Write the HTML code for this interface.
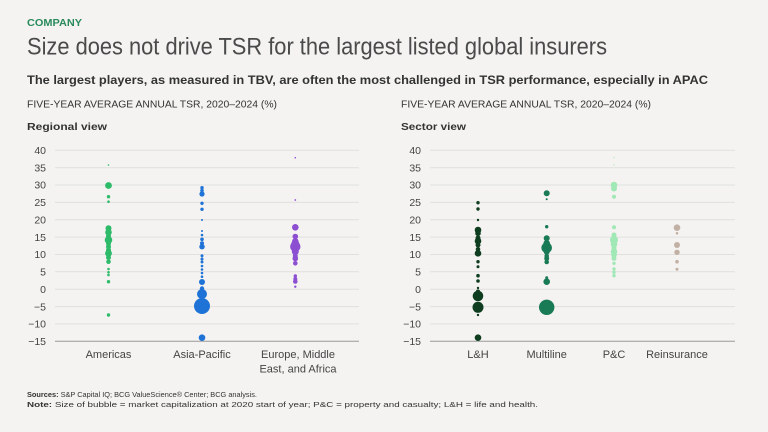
<!DOCTYPE html>
<html><head><meta charset="utf-8">
<style>
html,body{margin:0;padding:0;background:#f4f3f1;}
svg{display:block;}
text{font-family:"Liberation Sans",sans-serif;}
</style></head>
<body>
<svg width="768" height="432" viewBox="0 0 768 432" xmlns="http://www.w3.org/2000/svg">
<rect width="768" height="432" fill="#f4f3f1"/>
<text x="27" y="26" font-size="10" font-weight="bold" fill="#2a8a5c" textLength="55" lengthAdjust="spacingAndGlyphs">COMPANY</text>
<text x="27" y="54.5" font-size="24" fill="#4a4a4a" textLength="580" lengthAdjust="spacingAndGlyphs">Size does not drive TSR for the largest listed global insurers</text>
<text x="27" y="84" font-size="11.5" font-weight="bold" fill="#333" textLength="681" lengthAdjust="spacingAndGlyphs">The largest players, as measured in TBV, are often the most challenged in TSR performance, especially in APAC</text>
<text x="27" y="107.5" font-size="10" fill="#333" textLength="250" lengthAdjust="spacingAndGlyphs">FIVE-YEAR AVERAGE ANNUAL TSR, 2020–2024 (%)</text>
<text x="401" y="107.5" font-size="10" fill="#333" textLength="250" lengthAdjust="spacingAndGlyphs">FIVE-YEAR AVERAGE ANNUAL TSR, 2020–2024 (%)</text>
<text x="27" y="130" font-size="10.5" font-weight="bold" fill="#333" textLength="80" lengthAdjust="spacingAndGlyphs">Regional view</text>
<text x="401" y="130" font-size="10.5" font-weight="bold" fill="#333" textLength="65" lengthAdjust="spacingAndGlyphs">Sector view</text>

<g stroke="#e1e0de" stroke-width="1">
<line x1="55" x2="359" y1="150.3" y2="150.3"/><line x1="55" x2="359" y1="167.7" y2="167.7"/>
<line x1="55" x2="359" y1="185" y2="185"/><line x1="55" x2="359" y1="202.4" y2="202.4"/>
<line x1="55" x2="359" y1="219.7" y2="219.7"/><line x1="55" x2="359" y1="237.1" y2="237.1"/>
<line x1="55" x2="359" y1="254.5" y2="254.5"/><line x1="55" x2="359" y1="271.8" y2="271.8"/>
<line x1="55" x2="359" y1="289.2" y2="289.2"/><line x1="55" x2="359" y1="306.6" y2="306.6"/>
<line x1="55" x2="359" y1="323.9" y2="323.9"/>
<line x1="430" x2="735" y1="150.3" y2="150.3"/><line x1="430" x2="735" y1="167.7" y2="167.7"/>
<line x1="430" x2="735" y1="185" y2="185"/><line x1="430" x2="735" y1="202.4" y2="202.4"/>
<line x1="430" x2="735" y1="219.7" y2="219.7"/><line x1="430" x2="735" y1="237.1" y2="237.1"/>
<line x1="430" x2="735" y1="254.5" y2="254.5"/><line x1="430" x2="735" y1="271.8" y2="271.8"/>
<line x1="430" x2="735" y1="289.2" y2="289.2"/><line x1="430" x2="735" y1="306.6" y2="306.6"/>
<line x1="430" x2="735" y1="323.9" y2="323.9"/>
</g>
<line x1="55" x2="359" y1="341.3" y2="341.3" stroke="#9a9a9a" stroke-width="1"/>
<line x1="430" x2="735" y1="341.3" y2="341.3" stroke="#9a9a9a" stroke-width="1"/>

<g font-size="10.5" fill="#444" text-anchor="end">
<text x="46" y="154">40</text><text x="46" y="171.4">35</text><text x="46" y="188.7">30</text>
<text x="46" y="206.1">25</text><text x="46" y="223.4">20</text><text x="46" y="240.8">15</text>
<text x="46" y="258.2">10</text><text x="46" y="275.5">5</text><text x="46" y="292.9">0</text>
<text x="46" y="310.3">−5</text><text x="46" y="327.6">−10</text><text x="46" y="345">−15</text>
<text x="421" y="154">40</text><text x="421" y="171.4">35</text><text x="421" y="188.7">30</text>
<text x="421" y="206.1">25</text><text x="421" y="223.4">20</text><text x="421" y="240.8">15</text>
<text x="421" y="258.2">10</text><text x="421" y="275.5">5</text><text x="421" y="292.9">0</text>
<text x="421" y="310.3">−5</text><text x="421" y="327.6">−10</text><text x="421" y="345">−15</text>
</g>

<g font-size="11" fill="#444" text-anchor="middle">
<text x="108.5" y="358">Americas</text>
<text x="202" y="358">Asia-Pacific</text>
<text x="298" y="358">Europe, Middle</text>
<text x="298" y="372.5">East, and Africa</text>
<text x="478" y="358">L&amp;H</text>
<text x="546.7" y="358">Multiline</text>
<text x="614" y="358">P&amp;C</text>
<text x="677" y="358">Reinsurance</text>
</g>

<g fill="#2dbb6a">
<circle cx="108.5" cy="165" r="0.8"/><circle cx="108.5" cy="185.5" r="3.4"/>
<circle cx="108.5" cy="196.7" r="1.7"/><circle cx="108.5" cy="201.7" r="1.3"/>
<circle cx="108.5" cy="228.3" r="3"/><circle cx="108.5" cy="232.3" r="3.3"/>
<circle cx="108.5" cy="236" r="2.5"/><circle cx="108.5" cy="240" r="3.8"/>
<circle cx="108.5" cy="243.5" r="2.5"/><circle cx="108.5" cy="246.7" r="2.5"/>
<circle cx="108.5" cy="250" r="2.5"/><circle cx="108.5" cy="253.3" r="3.4"/>
<circle cx="108.5" cy="257.5" r="2.5"/><circle cx="108.5" cy="261.7" r="2.3"/>
<circle cx="108.5" cy="269" r="1.3"/><circle cx="108.5" cy="272.3" r="1.3"/>
<circle cx="108.5" cy="275" r="1.3"/><circle cx="108.5" cy="281.7" r="1.7"/>
<circle cx="108.5" cy="315" r="1.7"/>
</g>
<g fill="#1f72d6">
<circle cx="202" cy="187.7" r="1.7"/><circle cx="202" cy="190.5" r="1.8"/>
<circle cx="202" cy="194" r="2.6"/><circle cx="202" cy="203.3" r="1.7"/>
<circle cx="202" cy="209.3" r="1.7"/><circle cx="202" cy="220" r="1"/>
<circle cx="202" cy="231" r="1"/><circle cx="202" cy="235" r="1.3"/>
<circle cx="202" cy="239.3" r="1.8"/><circle cx="202" cy="243.3" r="2"/>
<circle cx="202" cy="246.7" r="2.7"/><circle cx="202" cy="255.7" r="1.5"/>
<circle cx="202" cy="259" r="1.5"/><circle cx="202" cy="262" r="1.5"/>
<circle cx="202" cy="266" r="1.3"/><circle cx="202" cy="269.5" r="1.3"/>
<circle cx="202" cy="273" r="1.3"/><circle cx="202" cy="276.7" r="1.3"/>
<circle cx="202" cy="282" r="3"/><circle cx="202" cy="288.5" r="2.2"/>
<circle cx="202" cy="294" r="5"/><circle cx="202" cy="306" r="8"/>
<circle cx="202" cy="337.7" r="3.3"/>
</g>
<g fill="#8c4fd2">
<circle cx="295.3" cy="157.7" r="0.8"/><circle cx="295.3" cy="200" r="0.9"/>
<circle cx="295.3" cy="227.3" r="3.3"/><circle cx="295.3" cy="236.5" r="2.8"/>
<circle cx="295.3" cy="241.5" r="3.3"/><circle cx="295.3" cy="244" r="4"/>
<circle cx="295.3" cy="246.7" r="5.2"/><circle cx="295.3" cy="251.5" r="3.5"/>
<circle cx="295.3" cy="256" r="2.5"/><circle cx="295.3" cy="258.5" r="2.8"/>
<circle cx="295.3" cy="263.3" r="2.3"/><circle cx="295.3" cy="276" r="1.7"/>
<circle cx="295.3" cy="279" r="2"/><circle cx="295.3" cy="281.5" r="2.3"/>
<circle cx="295.3" cy="286.7" r="1.2"/>
</g>
<g fill="#0f3d1f">
<circle cx="478" cy="202.7" r="1.7"/><circle cx="478" cy="209" r="1.7"/>
<circle cx="478" cy="220" r="1.2"/><circle cx="478" cy="230" r="3.3"/>
<circle cx="478" cy="233.3" r="2.8"/><circle cx="478" cy="238" r="2.5"/>
<circle cx="478" cy="241" r="3.3"/><circle cx="478" cy="245" r="2.5"/>
<circle cx="478" cy="249.3" r="2.3"/><circle cx="478" cy="253.3" r="3.3"/>
<circle cx="478" cy="261.7" r="1.7"/><circle cx="478" cy="266.7" r="1.5"/>
<circle cx="478" cy="275.7" r="1.8"/><circle cx="478" cy="281" r="1.8"/>
<circle cx="478" cy="288" r="1.2"/><circle cx="478" cy="291.7" r="2.2"/>
<circle cx="478" cy="296" r="5.3"/><circle cx="478" cy="307.3" r="5.5"/>
<circle cx="478" cy="315" r="1.2"/><circle cx="478" cy="337.7" r="3.3"/>
</g>
<g fill="#197a56">
<circle cx="546.7" cy="193.3" r="3"/><circle cx="546.7" cy="199.3" r="1"/>
<circle cx="546.7" cy="226.7" r="1.7"/><circle cx="546.7" cy="238.3" r="3"/>
<circle cx="546.7" cy="243.3" r="3.3"/><circle cx="546.7" cy="247.7" r="5.3"/>
<circle cx="546.7" cy="251.7" r="3"/><circle cx="546.7" cy="256" r="2.3"/>
<circle cx="546.7" cy="258.5" r="2.5"/><circle cx="546.7" cy="262" r="2.3"/>
<circle cx="546.7" cy="277.7" r="1.5"/><circle cx="546.7" cy="281.7" r="3.3"/>
<circle cx="546.7" cy="307.3" r="7.7"/>
</g>
<g fill="#a0e8b5">
<circle cx="614" cy="157.7" r="0.6"/><circle cx="614" cy="165" r="0.6"/>
<circle cx="614" cy="185" r="3.3"/><circle cx="614" cy="188.5" r="3"/>
<circle cx="614" cy="196.7" r="2"/><circle cx="614" cy="227.3" r="2"/>
<circle cx="614" cy="235" r="2.5"/><circle cx="614" cy="240" r="4"/>
<circle cx="614" cy="244.3" r="3.3"/><circle cx="614" cy="248" r="2.5"/>
<circle cx="614" cy="251.7" r="3.3"/><circle cx="614" cy="255" r="2.8"/>
<circle cx="614" cy="258.3" r="2.5"/><circle cx="614" cy="263.3" r="1.7"/>
<circle cx="614" cy="269" r="1.7"/><circle cx="614" cy="272.3" r="1.7"/>
<circle cx="614" cy="275.7" r="1.7"/>
</g>
<g fill="#c2b0a4">
<circle cx="677" cy="227.7" r="3.3"/><circle cx="677" cy="233.3" r="1.3"/>
<circle cx="677" cy="245" r="3"/><circle cx="677" cy="252.3" r="2.7"/>
<circle cx="677" cy="261.7" r="1.8"/><circle cx="677" cy="269.3" r="1.5"/>
</g>

<text x="27" y="397" font-size="7.2" fill="#333" textLength="230" lengthAdjust="spacingAndGlyphs"><tspan font-weight="bold">Sources:</tspan> S&amp;P Capital IQ; BCG ValueScience® Center; BCG analysis.</text>
<text x="27" y="407" font-size="7.2" fill="#333" textLength="511" lengthAdjust="spacingAndGlyphs"><tspan font-weight="bold">Note:</tspan> Size of bubble = market capitalization at 2020 start of year; P&amp;C = property and casualty; L&amp;H = life and health.</text>
</svg>
</body></html>
